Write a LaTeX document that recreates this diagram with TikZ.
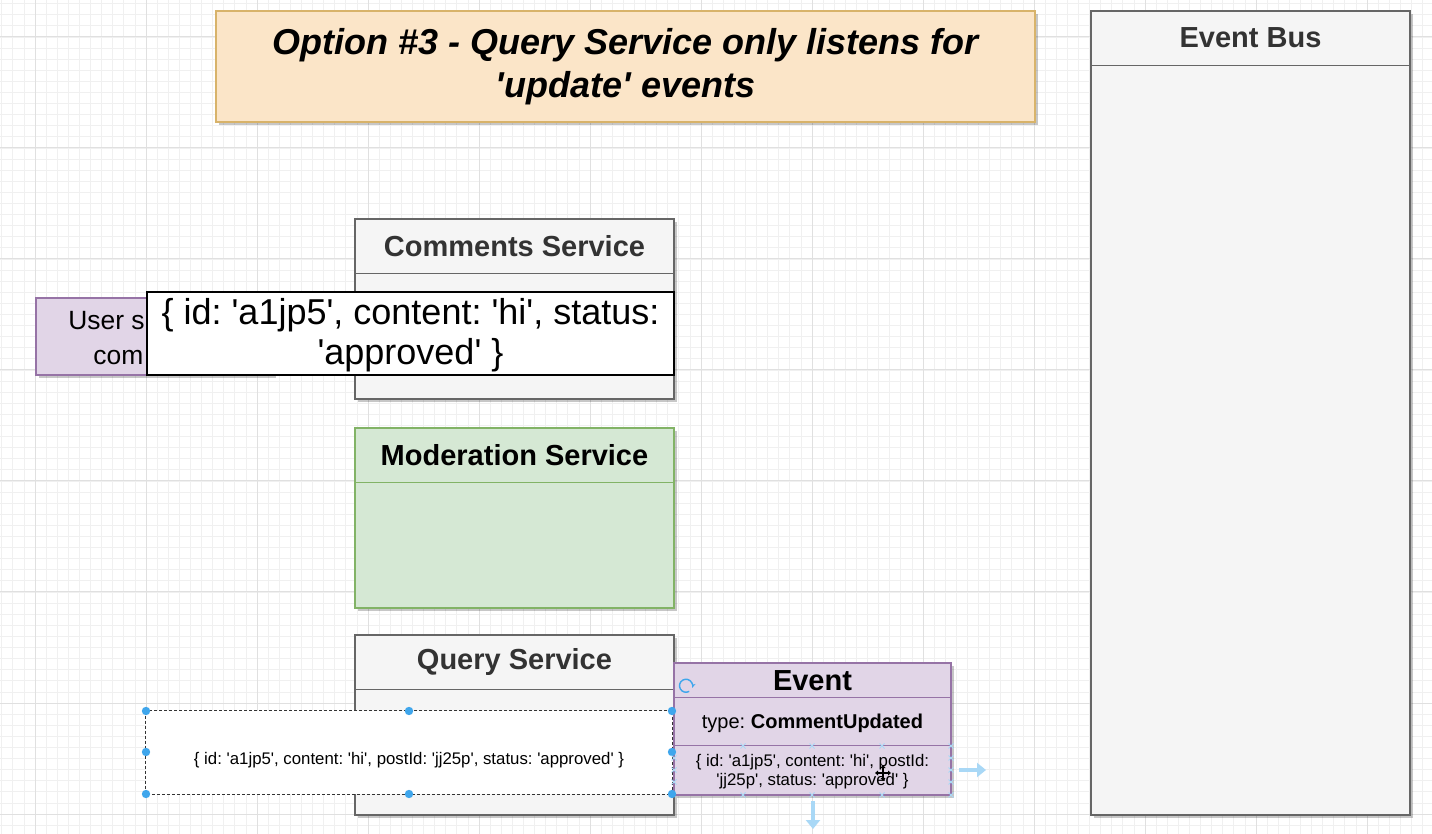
\documentclass[tikz,border=0pt]{standalone}
\usepackage{fontspec}
\setmainfont{Liberation Sans}[Ligatures=TeXOff]
\usetikzlibrary{calc,shadows,arrows.meta}
\definecolor{grayfill}{HTML}{F5F5F5}
\definecolor{grayline}{HTML}{666666}
\definecolor{graytext}{HTML}{333333}
\definecolor{greenfill}{HTML}{D5E8D4}
\definecolor{greenline}{HTML}{82B366}
\definecolor{purplefill}{HTML}{E1D5E7}
\definecolor{purpleline}{HTML}{9673A6}
\definecolor{titlefill}{HTML}{FBE5C8}
\definecolor{titleline}{HTML}{D8B36A}
\definecolor{minorgrid}{HTML}{F0F0F0}
\definecolor{majorgrid}{HTML}{E0E0E0}
\definecolor{handleblue}{HTML}{3FA6EC}
\definecolor{hintblue}{HTML}{A9D8F6}
\frenchspacing
\begin{document}
\begin{tikzpicture}[x=0.5pt,y=-0.5pt,
  box/.style={rectangle, inner sep=0pt, line width=0.7pt,
    drop shadow={shadow xshift=1.5pt, shadow yshift=-1.5pt, fill=black, opacity=0.22}},
  graybox/.style={box, draw=grayline, fill=grayfill},
  greenbox/.style={box, draw=greenline, fill=greenfill},
  purplebox/.style={box, draw=purpleline, fill=purplefill},
  titlebox/.style={box, draw=titleline, fill=titlefill},
  hdr/.style={font=\fontsize{14.5}{17}\selectfont\bfseries, inner sep=0pt},
  bigtxt/.style={font=\fontsize{18}{20}\selectfont, align=center, inner sep=0pt},
  smalltxt/.style={font=\fontsize{8.4}{9.6}\selectfont, align=center, inner sep=0pt},
  usertxt/.style={font=\fontsize{13.2}{15}\selectfont, inner sep=0pt, anchor=base west},
  handle/.style={circle, fill=handleblue, inner sep=0pt, minimum size=4.2pt},
  xmark/.style={hintblue, line width=0.5pt},
  hint/.style={hintblue, line width=2.2pt, -{Triangle[length=4.5pt,width=7pt]}},
]
\useasboundingbox (0,0) rectangle (1432,834);
\fill[white] (0,0) rectangle (1432,834);
% grid
\foreach \i in {-3,...,126} \draw[minorgrid, line width=0.4pt] ({35+\i*11.1},0) -- ({35+\i*11.1},834);
\foreach \j in {-3,...,72} \draw[minorgrid, line width=0.4pt] (0,{37+\j*11.1}) -- (1432,{37+\j*11.1});
\foreach \k in {0,...,12} \draw[majorgrid, line width=0.5pt] ({35+\k*111},0) -- ({35+\k*111},834);
\foreach \k in {0,...,7} \draw[majorgrid, line width=0.5pt] (0,{37+\k*111}) -- (1432,{37+\k*111});

% title
\node[titlebox, minimum width=409.5pt, minimum height=55.5pt,
  font=\fontsize{18}{21.5}\selectfont\bfseries\itshape, align=center]
  (title) at (625.5,66.5) {Option \#3 - Query Service only listens for\\'update' events};

% event bus
\node[graybox, minimum width=159.5pt, minimum height=402pt] (bus) at (1250.5,413) {};
\draw[grayline, line width=0.7pt] ($(bus.north west)+(0,55)$) -- ($(bus.north east)+(0,55)$);
\node[hdr, text=graytext] (bust) at (1250.5,38) {Event Bus};

% comments service
\node[graybox, minimum width=159.5pt, minimum height=90pt] (cs) at (514.5,309) {};
\draw[grayline, line width=0.7pt] ($(cs.north west)+(0,55)$) -- ($(cs.north east)+(0,55)$);
\node[hdr, text=graytext] (cst) at (514.5,246) {Comments Service};

% moderation service
\node[greenbox, minimum width=159.5pt, minimum height=90pt] (ms) at (514.5,518) {};
\draw[greenline, line width=0.7pt] ($(ms.north west)+(0,55)$) -- ($(ms.north east)+(0,55)$);
\node[hdr, text=black] (mst) at (514.5,455) {Moderation Service};

% query service
\node[graybox, minimum width=159.5pt, minimum height=90pt] (qs) at (514.5,725) {};
\draw[grayline, line width=0.7pt] ($(qs.north west)+(0,55)$) -- ($(qs.north east)+(0,55)$);
\node[hdr, text=graytext] (qst) at (514.5,662) {Query Service};

% user box (partly hidden)
\node[purplebox, minimum width=118.5pt, minimum height=38.5pt] (user) at (154.5,336.5) {};
\node[usertxt] (usert1) at (68,330) {User s};
\node[usertxt] (usert2) at (93,365) {com};

% white popup over comments service
\node[rectangle, draw=black, fill=white, line width=0.7pt, minimum width=263.5pt, minimum height=41.5pt] (pop) at (410.5,333.5) {};
\node[bigtxt] (popt) at (410.5,335) {\{ id: 'a1jp5', content: 'hi', status:\\'approved' \}};

% selected overlay in query service
\node[rectangle, fill=white, inner sep=0pt, minimum width=263pt, minimum height=41.5pt] (ov) at (409,752.5) {};
\draw[black!80, line width=0.55pt, dash pattern=on 1.5pt off 1pt] (ov.north west) rectangle (ov.south east);
\node[smalltxt] (ovt) at (409,760) {\{ id: 'a1jp5', content: 'hi', postId: 'jj25p', status: 'approved' \}};

% event box
\node[purplebox, minimum width=138.5pt, minimum height=66pt] (ev) at (812.5,729) {};
\draw[purpleline, line width=0.7pt] ($(ev.north west)+(0,35)$) -- ($(ev.north east)+(0,35)$);
\draw[purpleline, line width=0.7pt] ($(ev.north west)+(0,83)$) -- ($(ev.north east)+(0,83)$);
\node[hdr, text=black] (evt) at (812.5,681) {Event};
\node[font=\fontsize{10}{12}\selectfont, inner sep=0pt] (evtype) at (812.5,723) {type: \textbf{CommentUpdated}};
\node[smalltxt] (evbody) at (812.5,771.5) {\{ id: 'a1jp5', content: 'hi', postId:\\'jj25p', status: 'approved' \}};

% selection handles of overlay
\foreach \hx/\hy in {146/711,409/711,672/711,146/752,672/752,146/794,409/794,672/794}
  \node[handle] at (\hx,\hy) {};

% hint marks on event body compartment
\foreach \mx/\my in {743/746,812/746,882/746,951/746,743/795,812/795,882/795,951/795,951/758,951/770,951/782,674/758,674/770,674/782}
  \draw[xmark] (\mx-2.5,\my-2.5) -- (\mx+2.5,\my+2.5) (\mx-2.5,\my+2.5) -- (\mx+2.5,\my-2.5);
\coordinate (ra) at (959,770);
\coordinate (rb) at (986,770);
\draw[hint] (ra) -- (rb);
\coordinate (da) at (813,801);
\coordinate (db) at (813,829);
\draw[hint] (da) -- (db);

% rotate handle
\coordinate (rot) at (686,697);
\draw[handleblue, line width=0.7pt, -{Stealth[length=2.5pt]}] ($(rot)+(3.25,-5.63)$) arc[start angle=60, end angle=380, radius=6.5];

% move cursor
\coordinate (cur) at (883,773);
\draw[black, line width=0.6pt] ($(cur)+(-7,0)$) -- ($(cur)+(7,0)$) ($(cur)+(0,-7)$) -- ($(cur)+(0,7)$);
\fill[black] ($(cur)+(-8,0)$) -- ($(cur)+(-5,-2.5)$) -- ($(cur)+(-5,2.5)$) -- cycle;
\fill[black] ($(cur)+(8,0)$) -- ($(cur)+(5,-2.5)$) -- ($(cur)+(5,2.5)$) -- cycle;
\fill[black] ($(cur)+(0,-8)$) -- ($(cur)+(-2.5,-5)$) -- ($(cur)+(2.5,-5)$) -- cycle;
\fill[black] ($(cur)+(0,8)$) -- ($(cur)+(-2.5,5)$) -- ($(cur)+(2.5,5)$) -- cycle;
\end{tikzpicture}
\end{document}
